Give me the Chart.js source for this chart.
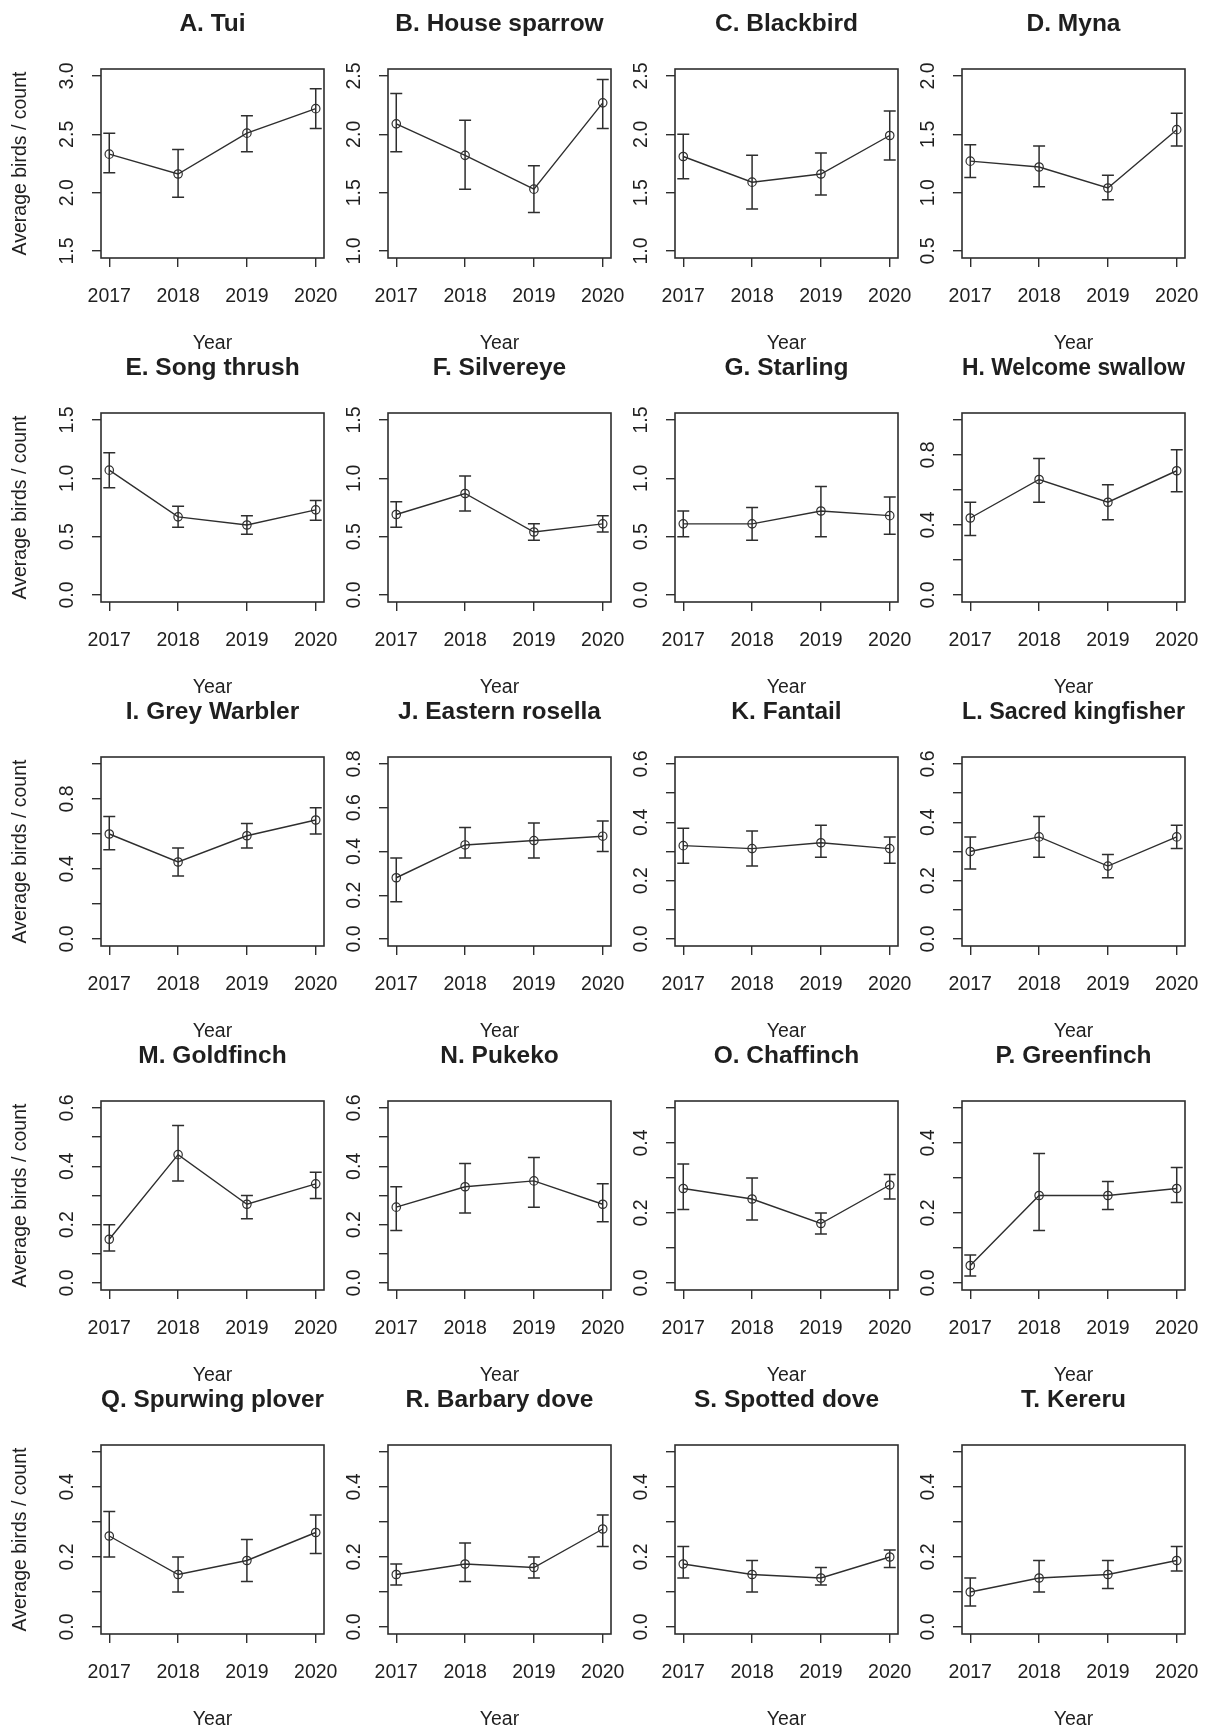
<!DOCTYPE html>
<html lang="en">
<head>
<meta charset="UTF-8" />
<title>Average birds per count by year</title>
<style>
  html, body { margin: 0; padding: 0; background: #fff; overflow: hidden; }
  #page { position: relative; width: 1208px; height: 1731px; }
  #page canvas { position: absolute; }
</style>
</head>
<body>
<div id="page"></div>

<script src="https://cdn.jsdelivr.net/npm/chart.js"></script>
<script>
  // Data
  const years = [2017, 2018, 2019, 2020];
  const species = [
    'A. Tui', 'B. House sparrow', 'C. Blackbird', 'D. Myna',
    'E. Song thrush', 'F. Silvereye', 'G. Starling', 'H. Welcome swallow',
    'I. Grey Warbler', 'J. Eastern rosella', 'K. Fantail', 'L. Sacred kingfisher',
    'M. Goldfinch', 'N. Pukeko', 'O. Chaffinch', 'P. Greenfinch',
    'Q. Spurwing plover', 'R. Barbary dove', 'S. Spotted dove', 'T. Kereru'
  ];
  const means = [
    [2.33, 2.16, 2.51, 2.72], [2.09, 1.82, 1.53, 2.27], [1.81, 1.59, 1.66, 1.99], [1.27, 1.22, 1.04, 1.54],
    [1.07, 0.67, 0.60, 0.73], [0.69, 0.87, 0.54, 0.61], [0.61, 0.61, 0.72, 0.68], [0.44, 0.66, 0.53, 0.71],
    [0.60, 0.44, 0.59, 0.68], [0.28, 0.43, 0.45, 0.47], [0.32, 0.31, 0.33, 0.31], [0.30, 0.35, 0.25, 0.35],
    [0.15, 0.44, 0.27, 0.34], [0.26, 0.33, 0.35, 0.27], [0.27, 0.24, 0.17, 0.28], [0.05, 0.25, 0.25, 0.27],
    [0.26, 0.15, 0.19, 0.27], [0.15, 0.18, 0.17, 0.28], [0.18, 0.15, 0.14, 0.20], [0.10, 0.14, 0.15, 0.19]
  ];
  const upper = [
    [2.51, 2.37, 2.66, 2.89], [2.35, 2.12, 1.73, 2.47], [2.00, 1.82, 1.84, 2.20], [1.41, 1.40, 1.15, 1.68],
    [1.22, 0.76, 0.68, 0.81], [0.80, 1.02, 0.61, 0.68], [0.72, 0.75, 0.93, 0.84], [0.53, 0.78, 0.63, 0.83],
    [0.70, 0.52, 0.66, 0.75], [0.37, 0.51, 0.53, 0.54], [0.38, 0.37, 0.39, 0.35], [0.35, 0.42, 0.29, 0.39],
    [0.20, 0.54, 0.30, 0.38], [0.33, 0.41, 0.43, 0.34], [0.34, 0.30, 0.20, 0.31], [0.08, 0.37, 0.29, 0.33],
    [0.33, 0.20, 0.25, 0.32], [0.18, 0.24, 0.20, 0.32], [0.23, 0.19, 0.17, 0.22], [0.14, 0.19, 0.19, 0.23]
  ];
  const lower = [
    [2.17, 1.96, 2.35, 2.55], [1.85, 1.53, 1.33, 2.05], [1.62, 1.36, 1.48, 1.78], [1.13, 1.05, 0.94, 1.40],
    [0.92, 0.58, 0.52, 0.64], [0.58, 0.72, 0.47, 0.54], [0.50, 0.47, 0.50, 0.52], [0.34, 0.53, 0.43, 0.59],
    [0.51, 0.36, 0.52, 0.60], [0.17, 0.37, 0.37, 0.40], [0.26, 0.25, 0.28, 0.26], [0.24, 0.28, 0.21, 0.31],
    [0.11, 0.35, 0.22, 0.29], [0.18, 0.24, 0.26, 0.21], [0.21, 0.18, 0.14, 0.24], [0.02, 0.15, 0.21, 0.23],
    [0.20, 0.10, 0.13, 0.21], [0.12, 0.13, 0.14, 0.23], [0.14, 0.10, 0.12, 0.17], [0.06, 0.10, 0.11, 0.16]
  ];

  // y axis limits, tick step and which ticks get a label
  const yMin = [1.5, 1.0, 1.0, 0.5, 0, 0, 0, 0, 0, 0, 0, 0, 0, 0, 0, 0, 0, 0, 0, 0];
  const yMax = [3.0, 2.5, 2.5, 2.0, 1.5, 1.5, 1.5, 1.0, 1.0, 0.8, 0.6, 0.6, 0.6, 0.6, 0.5, 0.5, 0.5, 0.5, 0.5, 0.5];
  const yStep = [0.5, 0.5, 0.5, 0.5, 0.5, 0.5, 0.5, 0.2, 0.2, 0.2, 0.1, 0.1, 0.1, 0.1, 0.1, 0.1, 0.1, 0.1, 0.1, 0.1];
  const yLabelStep = [0.5, 0.5, 0.5, 0.5, 0.5, 0.5, 0.5, 0.4, 0.4, 0.2, 0.2, 0.2, 0.2, 0.2, 0.2, 0.2, 0.2, 0.2, 0.2, 0.2];

  const ink = '#2e2e2e';
  const textInk = '#1f1f1f';
  const family = "'Liberation Sans', Arial, Helvetica, sans-serif";

  // panel geometry in px
  const colStep = 287, rowStep = 344;
  const plotLeft = 101, plotW = 223, padRight = 34;
  const xAxisH = 99;
  const canvasW = plotLeft + plotW + padRight, canvasH = 357;

  function tickValues(lo, hi, step) {
    const out = [];
    for (let k = 0; lo + k * step <= hi + 1e-9; k++) out.push(+(lo + k * step).toFixed(3));
    return out;
  }

  // R style error bars with flat caps
  const errorBars = {
    id: 'errorBars',
    afterDatasetsDraw(chart, args, opts) {
      const { ctx, scales: { x, y } } = chart;
      ctx.save();
      ctx.strokeStyle = ink;
      ctx.lineWidth = 1.5;
      years.forEach((yr, j) => {
        const px = x.getPixelForValue(yr);
        const top = y.getPixelForValue(opts.upper[j]);
        const bot = y.getPixelForValue(opts.lower[j]);
        ctx.beginPath();
        ctx.moveTo(px, top); ctx.lineTo(px, bot);
        ctx.moveTo(px - 6, top); ctx.lineTo(px + 6, top);
        ctx.moveTo(px - 6, bot); ctx.lineTo(px + 6, bot);
        ctx.stroke();
      });
      ctx.restore();
    }
  };

  // box round the plot region
  const plotBox = {
    id: 'plotBox',
    afterDraw(chart) {
      const { ctx, chartArea: a } = chart;
      ctx.save();
      ctx.strokeStyle = ink;
      ctx.lineWidth = 1.6;
      ctx.strokeRect(a.left, a.top, a.right - a.left, a.bottom - a.top);
      ctx.restore();
    }
  };

  const page = document.getElementById('page');

  species.forEach((name, i) => {
    const col = i % 4, row = Math.floor(i / 4);
    const canvas = document.createElement('canvas');
    canvas.width = canvasW;
    canvas.height = canvasH;
    canvas.style.left = (col * colStep) + 'px';
    canvas.style.top = (row * rowStep) + 'px';
    page.appendChild(canvas);

    const lo = yMin[i], hi = yMax[i];
    const yPad = (hi - lo) * 0.04;
    const xPad = (years[3] - years[0]) * 0.04;
    const yTicks = tickValues(lo, hi, yStep[i]);

    new Chart(canvas, {
      type: 'line',
      data: {
        datasets: [{
          data: years.map((yr, j) => ({ x: yr, y: means[i][j] })),
          borderColor: ink,
          borderWidth: 1.4,
          pointRadius: 4.2,
          pointBorderWidth: 1.2,
          pointBorderColor: ink,
          pointBackgroundColor: 'rgba(0,0,0,0)',
          tension: 0,
          fill: false
        }]
      },
      options: {
        responsive: false,
        animation: false,
        devicePixelRatio: 1,
        layout: { padding: { left: 0, top: 0, right: padRight, bottom: 0 } },
        plugins: {
          legend: { display: false },
          tooltip: { enabled: false },
          title: {
            display: true,
            text: name,
            fullSize: false,
            color: textInk,
            font: { family, size: 24.5, weight: 'bold', lineHeight: 1.2 },
            padding: { top: 9.3, bottom: 30.3 }
          },
          errorBars: { upper: upper[i], lower: lower[i] }
        },
        scales: {
          x: {
            type: 'linear',
            min: years[0] - xPad,
            max: years[3] + xPad,
            afterBuildTicks: s => { s.ticks = years.map(v => ({ value: v })); },
            afterFit: s => { s.height = xAxisH; },
            border: { display: false },
            grid: { drawOnChartArea: false, drawTicks: true, tickLength: 9, color: ink, lineWidth: 1.4 },
            ticks: {
              padding: 18.3, autoSkip: false, maxRotation: 0, color: textInk,
              font: { family, size: 19.5, lineHeight: 1.2 },
              callback: v => String(v)
            },
            title: {
              display: true, text: 'Year', color: textInk,
              font: { family, size: 19.5, lineHeight: 1.2 },
              padding: { top: 0, bottom: 1.3 }
            }
          },
          y: {
            min: lo - yPad,
            max: hi + yPad,
            afterBuildTicks: s => { s.ticks = yTicks.map(v => ({ value: v })); },
            afterFit: s => { s.width = plotLeft; },
            border: { display: false },
            grid: { drawOnChartArea: false, drawTicks: true, tickLength: 9, color: ink, lineWidth: 1.4 },
            ticks: {
              padding: 10.5, autoSkip: false, minRotation: 90, maxRotation: 90, crossAlign: 'center',
              color: textInk, font: { family, size: 19.5, lineHeight: 1.2 },
              callback: v => {
                const k = (v - lo) / yLabelStep[i];
                return Math.abs(k - Math.round(k)) < 1e-6 ? v.toFixed(1) : '';
              }
            },
            title: {
              display: col === 0, text: 'Average birds / count', color: textInk,
              font: { family, size: 19.5, lineHeight: 1.2 },
              padding: { top: 9.3, bottom: 0 }
            }
          }
        }
      },
      plugins: [errorBars, plotBox]
    });
  });
</script>
</body>
</html>
